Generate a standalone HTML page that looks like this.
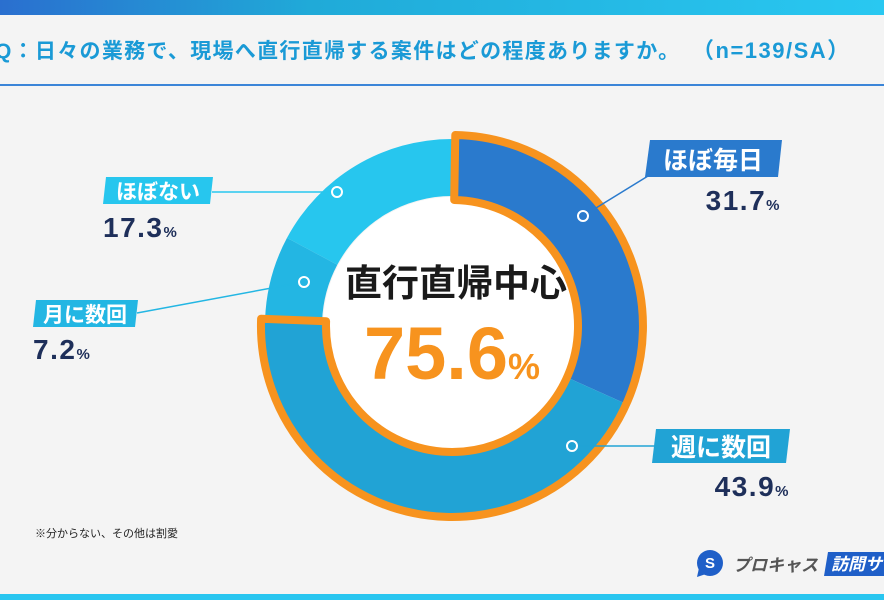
<!DOCTYPE html>
<html><head><meta charset="utf-8"><style>
html,body{margin:0;padding:0;}
body{width:884px;height:600px;overflow:hidden;background:#f4f4f4;position:relative;font-family:"Liberation Sans","Noto Sans CJK JP",sans-serif;}
</style></head><body>
<svg width="884" height="600" viewBox="0 0 884 600" xmlns="http://www.w3.org/2000/svg" style="position:absolute;left:0;top:0">
<defs>
<linearGradient id="tg" x1="0" x2="1" y1="0" y2="0"><stop offset="0" stop-color="#2a6fcf"/><stop offset="0.35" stop-color="#20aad8"/><stop offset="1" stop-color="#29c8f1"/></linearGradient>
</defs>
<rect x="0" y="0" width="884" height="15" fill="url(#tg)"/>
<text x="-5" y="58" font-family="Liberation Sans, Noto Sans CJK JP, sans-serif" font-weight="bold" font-size="21" letter-spacing="1.3" fill="#1a9ad6">Q：日々の業務で、現場へ直行直帰する案件はどの程度ありますか。<tspan x="692" font-size="22" letter-spacing="1.5">（n=139/SA）</tspan></text>
<rect x="0" y="84" width="884" height="2" fill="#3b85d8"/>
<rect x="0" y="594" width="884" height="6" fill="#29c6f0"/>

<!-- donut -->
<path d="M287.0,237.9 A187,187 0 0 1 452,139 L452,196 A130,130 0 0 0 337.3,264.8 Z" fill="#27c6ee"/>
<path d="M265.1,318.8 A187,187 0 0 1 287.0,237.9 L337.3,264.8 A130,130 0 0 0 322.1,321.0 Z" fill="#23b6e3"/>
<path d="M455.3,135 A191,191 0 0 1 626.3,404.0 L567.0,377.4 A126,126 0 0 0 454.2,200 Z" fill="#2a7acd"/>
<path d="M626.3,404.0 A191,191 0 0 1 261.1,318.7 L326.1,321.2 A126,126 0 0 0 567.0,377.4 Z" fill="#21a3d5"/>
<circle cx="452" cy="326" r="129" fill="#ffffff"/>
<path d="M455.3,135 A191,191 0 1 1 261.1,318.7 L326.1,321.2 A126,126 0 1 0 454.2,200 Z" fill="none" stroke="#f7931e" stroke-width="8" stroke-linejoin="round"/>
<text x="456" y="296" text-anchor="middle" font-family="Liberation Sans, Noto Sans CJK JP, sans-serif" font-weight="bold" font-size="37" fill="#1a1a1a">直行直帰中心</text>
<text x="452" y="379" text-anchor="middle" font-family="Liberation Sans, Noto Sans CJK JP, sans-serif" font-weight="bold" font-size="74" fill="#f7931e">75.6<tspan font-size="36">%</tspan></text>

<!-- leader lines -->
<g stroke-width="1.5" fill="none">
<line x1="583" y1="216" x2="648" y2="176" stroke="#2a7acd"/>
<line x1="572" y1="446" x2="656" y2="446" stroke="#21a3d5"/>
<line x1="212" y1="192" x2="337" y2="192" stroke="#27c6ee"/>
<line x1="137" y1="313" x2="304" y2="282" stroke="#23b6e3"/>
</g>
<g stroke="#fff" stroke-width="2">
<circle cx="583" cy="216" r="5" fill="#2a7acd"/>
<circle cx="572" cy="446" r="5" fill="#21a3d5"/>
<circle cx="337" cy="192" r="5" fill="#27c6ee"/>
<circle cx="304" cy="282" r="5" fill="#23b6e3"/>
</g>

<!-- labels -->
<polygon points="650,140 782,140 778,177 645,177" fill="#2a7acd"/>
<text x="713" y="169" text-anchor="middle" font-family="Liberation Sans, Noto Sans CJK JP, sans-serif" font-weight="bold" font-size="25" fill="#fff">ほぼ毎日</text>
<text x="781" y="210" text-anchor="end" font-family="Liberation Sans, Noto Sans CJK JP, sans-serif" font-weight="bold" font-size="28" fill="#1e2f5a" letter-spacing="1.5">31.7<tspan font-size="15">%</tspan></text>

<polygon points="656,429 790,429 786,463 652,463" fill="#21a3d5"/>
<text x="721" y="456" text-anchor="middle" font-family="Liberation Sans, Noto Sans CJK JP, sans-serif" font-weight="bold" font-size="25" fill="#fff">週に数回</text>
<text x="790" y="496" text-anchor="end" font-family="Liberation Sans, Noto Sans CJK JP, sans-serif" font-weight="bold" font-size="28" fill="#1e2f5a" letter-spacing="1.5">43.9<tspan font-size="15">%</tspan></text>

<polygon points="106,177 213,177 210,204 103,204" fill="#27c6ee"/>
<text x="158" y="199" text-anchor="middle" font-family="Liberation Sans, Noto Sans CJK JP, sans-serif" font-weight="bold" font-size="21" fill="#fff">ほぼない</text>
<text x="103" y="237" font-family="Liberation Sans, Noto Sans CJK JP, sans-serif" font-weight="bold" font-size="28" fill="#1e2f5a" letter-spacing="1.5">17.3<tspan font-size="15">%</tspan></text>

<polygon points="36,300 138,300 135,327 33,327" fill="#23b6e3"/>
<text x="85" y="322" text-anchor="middle" font-family="Liberation Sans, Noto Sans CJK JP, sans-serif" font-weight="bold" font-size="21" fill="#fff">月に数回</text>
<text x="33" y="359" font-family="Liberation Sans, Noto Sans CJK JP, sans-serif" font-weight="bold" font-size="28" fill="#1e2f5a" letter-spacing="1.5">7.2<tspan font-size="15">%</tspan></text>

<text x="35" y="537" font-family="Liberation Sans, Noto Sans CJK JP, sans-serif" font-size="11" fill="#222">※分からない、その他は割愛</text>

<!-- logo -->
<circle cx="710" cy="563" r="13" fill="#1f5fc8"/>
<path d="M699,568 L697,577 L706,574 Z" fill="#1f5fc8"/>
<text x="710" y="568" text-anchor="middle" font-family="Liberation Sans, sans-serif" font-weight="bold" font-size="15" fill="#fff">S</text>
<text x="733" y="571" font-family="Liberation Sans, Noto Sans CJK JP, sans-serif" font-weight="bold" font-style="italic" font-size="17" fill="#555">プロキャス</text>
<polygon points="828,552 884,552 884,576 824,576" fill="#1f5fc8"/>
<text x="831" y="570" font-family="Liberation Sans, Noto Sans CJK JP, sans-serif" font-weight="bold" font-style="italic" font-size="17" fill="#fff">訪問サービス</text>
</svg>
</body></html>
